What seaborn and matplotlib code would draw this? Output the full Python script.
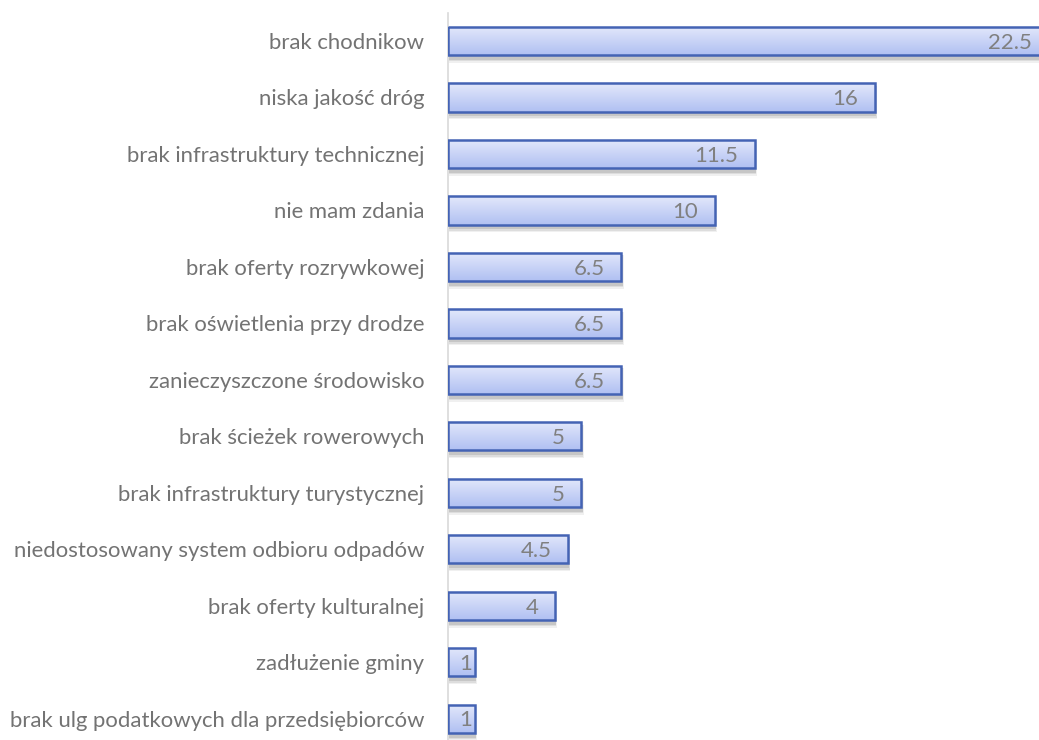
import matplotlib
matplotlib.use("Agg")
import matplotlib.pyplot as plt
import seaborn as sns
import numpy as np
import pandas as pd
from matplotlib.patches import Rectangle
from matplotlib.colors import LinearSegmentedColormap

categories = [
    "brak chodnikow",
    "niska jakość dróg",
    "brak infrastruktury technicznej",
    "nie mam zdania",
    "brak oferty rozrywkowej",
    "brak oświetlenia przy drodze",
    "zanieczyszczone środowisko",
    "brak ścieżek rowerowych",
    "brak infrastruktury turystycznej",
    "niedostosowany system odbioru odpadów",
    "brak oferty kulturalnej",
    "zadłużenie gminy",
    "brak ulg podatkowych dla przedsiębiorców",
]
values = [22.5, 16, 11.5, 10, 6.5, 6.5, 6.5, 5, 5, 4.5, 4, 1, 1]
value_labels = ["22.5", "16", "11.5", "10", "6.5", "6.5", "6.5", "5", "5", "4.5", "4", "1", "1"]

sns.set_theme(style="white")
plt.rcParams['font.family'] = ['Lato', 'DejaVu Sans']

df = pd.DataFrame({"cat": categories, "val": values})

fig = plt.figure(figsize=(10.39, 7.40), dpi=100)
ax = fig.add_axes([448/1039, -0.0095, 1 - 448/1039, 0.9828 + 0.0095])

sns.barplot(data=df, x="val", y="cat", ax=ax, width=0.5, color="#c5d0f5",
            edgecolor="#4463b4", linewidth=1.8, zorder=3)

ax.set_xlim(0, 22.15)
ax.set_ylim(12.5, -0.5)

grad = np.linspace(0, 1, 64).reshape(-1, 1)
cmap = LinearSegmentedColormap.from_list("g", ["#e3e8fb", "#b0c0f2"])
for p in list(ax.patches):
    x0, y0 = p.get_x(), p.get_y()
    w, h = p.get_width(), p.get_height()
    for k, a in [(0.10, 0.06), (0.07, 0.08), (0.045, 0.10)]:
        sh = Rectangle((x0 + 0.02, y0 + 0.04), w + k * 0.6, h + k, facecolor="black",
                       edgecolor="none", alpha=a, zorder=2)
        ax.add_patch(sh)
    im = ax.imshow(grad, extent=[x0, x0 + w, y0 + h, y0], aspect="auto",
                   cmap=cmap, zorder=3.1, interpolation="bicubic")
    im.set_clip_path(p)
    p.set_facecolor("none")
    p.set_zorder(3.2)
ax.set_xlim(0, 22.15)
ax.set_ylim(12.5, -0.5)

for i, (v, lab) in enumerate(zip(values, value_labels)):
    ax.text(v - 0.62 if v > 1 else v - 0.08, i + 0.03, lab, ha="right", va="center",
            fontsize=16, color="#808080", zorder=5)

ax.set_xlabel("")
ax.set_ylabel("")
ax.set_xticks([])
ax.tick_params(axis="y", length=0, pad=17, labelsize=15.9, labelcolor="#737373")
for s in ["top", "right", "bottom"]:
    ax.spines[s].set_visible(False)
ax.spines["left"].set_color("#d9d9d9")
ax.spines["left"].set_linewidth(1.2)

fig.savefig("out.png", dpi=100)
